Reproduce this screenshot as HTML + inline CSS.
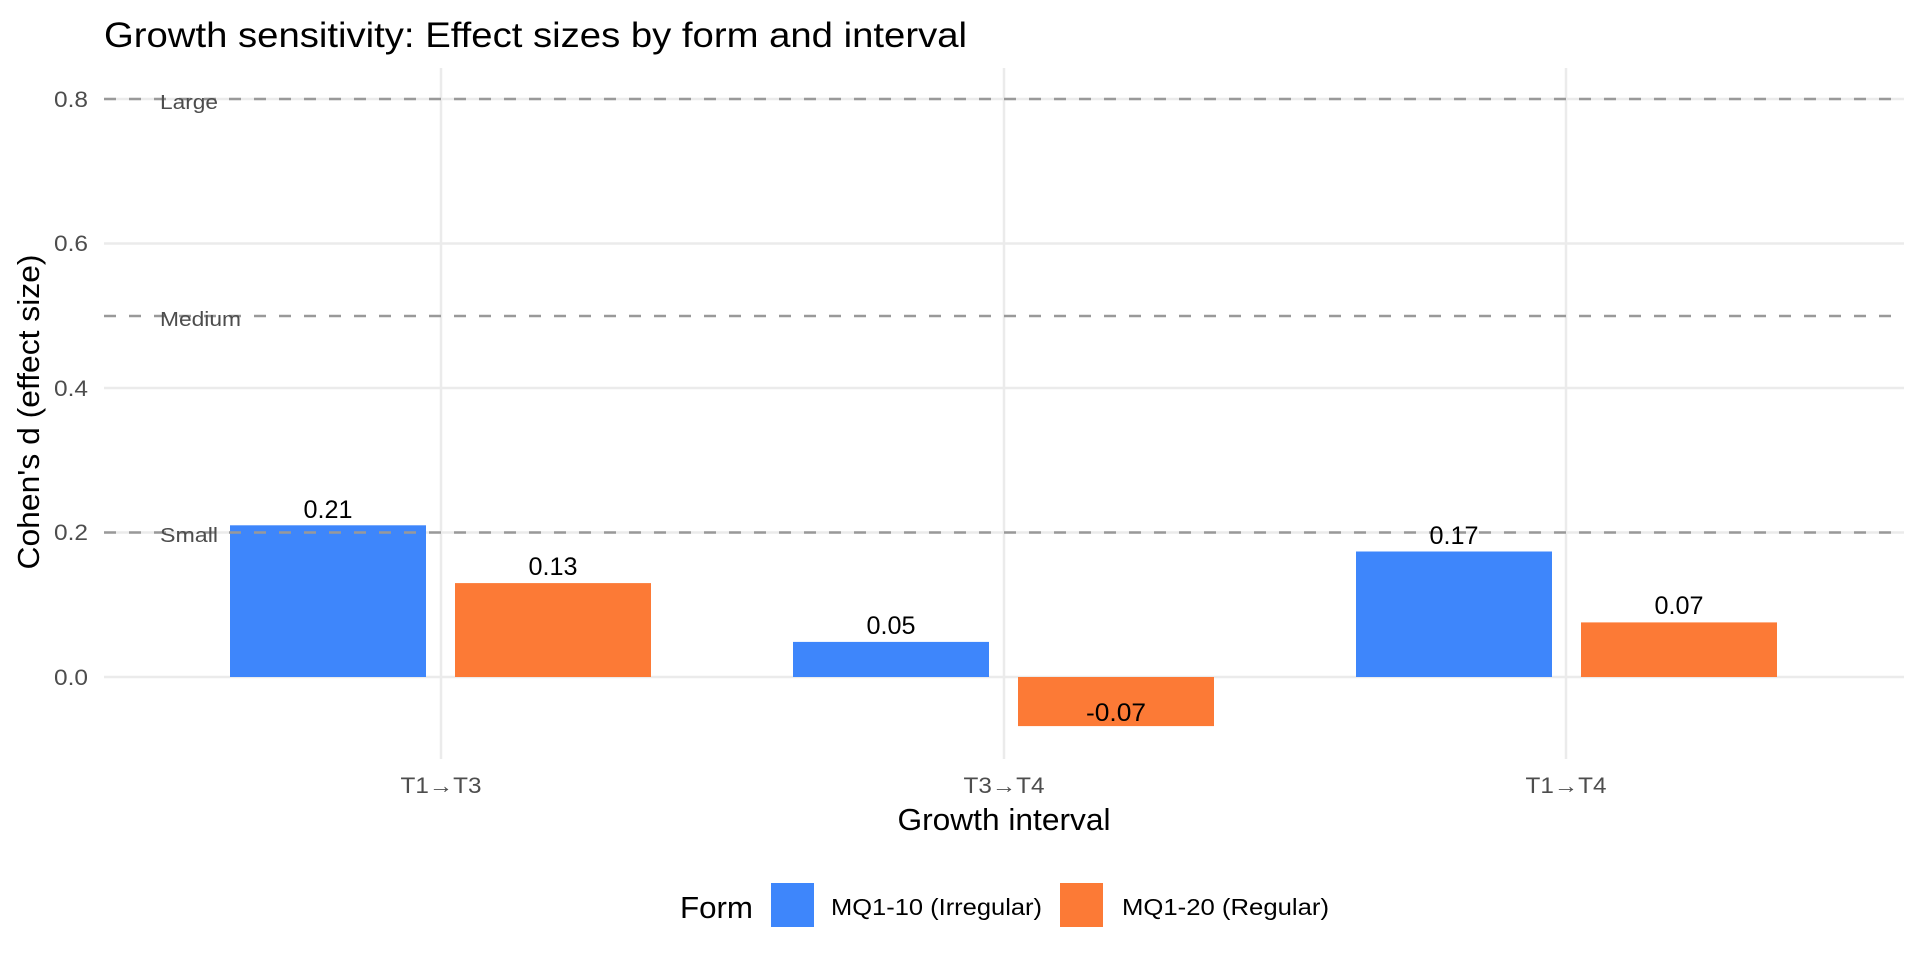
<!DOCTYPE html>
<html><head><meta charset="utf-8"><style>
html,body{margin:0;padding:0;background:#fff;}
svg{display:block;font-family:"Liberation Sans",Arial,sans-serif;}
</style></head><body>
<svg width="1920" height="960" viewBox="0 0 1920 960" xmlns="http://www.w3.org/2000/svg">
<rect width="1920" height="960" fill="#fff"/>
<text x="104" y="47" font-size="35" fill="#000" textLength="863" lengthAdjust="spacingAndGlyphs">Growth sensitivity: Effect sizes by form and interval</text>
<g stroke="#ebebeb" stroke-width="2.5">
<line x1="104" x2="1904" y1="677" y2="677"/>
<line x1="104" x2="1904" y1="532.5" y2="532.5"/>
<line x1="104" x2="1904" y1="388" y2="388"/>
<line x1="104" x2="1904" y1="243.5" y2="243.5"/>
<line x1="104" x2="1904" y1="99" y2="99"/>
<line x1="441" x2="441" y1="68" y2="759"/>
<line x1="1004" x2="1004" y1="68" y2="759"/>
<line x1="1566" x2="1566" y1="68" y2="759"/>
</g>
<g>
<rect x="230" y="525.3" width="196" height="151.7" fill="#3e86fb"/>
<rect x="455" y="583.1" width="196" height="93.9" fill="#fc7a36"/>
<rect x="793" y="641.9" width="196" height="35.1" fill="#3e86fb"/>
<rect x="1018" y="677" width="196" height="49.1" fill="#fc7a36"/>
<rect x="1356" y="551.5" width="196" height="125.5" fill="#3e86fb"/>
<rect x="1581" y="622.4" width="196" height="54.6" fill="#fc7a36"/>
</g>
<g stroke="#999" stroke-width="2.5" stroke-dasharray="12,13">
<line x1="104" x2="1904" y1="99" y2="99"/>
<line x1="104" x2="1904" y1="316" y2="316"/>
<line x1="104" x2="1904" y1="532.5" y2="532.5"/>
</g>
<g font-size="20" fill="#4d4d4d">
<text x="160" y="109" textLength="58" lengthAdjust="spacingAndGlyphs">Large</text>
<text x="160" y="326" textLength="81" lengthAdjust="spacingAndGlyphs">Medium</text>
<text x="160" y="542" textLength="58" lengthAdjust="spacingAndGlyphs">Small</text>
</g>
<g font-size="25" fill="#000" text-anchor="middle">
<text x="328" y="518" textLength="49" lengthAdjust="spacingAndGlyphs">0.21</text>
<text x="553" y="575" textLength="49" lengthAdjust="spacingAndGlyphs">0.13</text>
<text x="891" y="634" textLength="49" lengthAdjust="spacingAndGlyphs">0.05</text>
<text x="1116" y="721" textLength="60" lengthAdjust="spacingAndGlyphs">-0.07</text>
<text x="1454" y="544" textLength="49" lengthAdjust="spacingAndGlyphs">0.17</text>
<text x="1679" y="614" textLength="49" lengthAdjust="spacingAndGlyphs">0.07</text>
</g>
<g font-size="22" fill="#4d4d4d" text-anchor="end">
<text x="88" y="685" textLength="34" lengthAdjust="spacingAndGlyphs">0.0</text>
<text x="88" y="540" textLength="34" lengthAdjust="spacingAndGlyphs">0.2</text>
<text x="88" y="396" textLength="34" lengthAdjust="spacingAndGlyphs">0.4</text>
<text x="88" y="251" textLength="34" lengthAdjust="spacingAndGlyphs">0.6</text>
<text x="88" y="107" textLength="34" lengthAdjust="spacingAndGlyphs">0.8</text>
</g>
<g font-size="22" fill="#4d4d4d" text-anchor="middle">
<text x="441" y="793" textLength="81" lengthAdjust="spacingAndGlyphs">T1→T3</text>
<text x="1004" y="793" textLength="81" lengthAdjust="spacingAndGlyphs">T3→T4</text>
<text x="1566" y="793" textLength="81" lengthAdjust="spacingAndGlyphs">T1→T4</text>
</g>
<text x="1004" y="830" font-size="31" text-anchor="middle" fill="#000" textLength="213" lengthAdjust="spacingAndGlyphs">Growth interval</text>
<text transform="translate(39,412) rotate(-90)" font-size="31" text-anchor="middle" fill="#000" textLength="315" lengthAdjust="spacingAndGlyphs">Cohen's d (effect size)</text>
<text x="680" y="918" font-size="31" fill="#000" textLength="73" lengthAdjust="spacingAndGlyphs">Form</text>
<rect x="771" y="883" width="43" height="44" fill="#3e86fb"/>
<text x="831" y="915" font-size="23" fill="#000" textLength="211" lengthAdjust="spacingAndGlyphs">MQ1-10 (Irregular)</text>
<rect x="1060" y="883" width="43" height="44" fill="#fc7a36"/>
<text x="1122" y="915" font-size="23" fill="#000" textLength="207" lengthAdjust="spacingAndGlyphs">MQ1-20 (Regular)</text>
</svg>
</body></html>
